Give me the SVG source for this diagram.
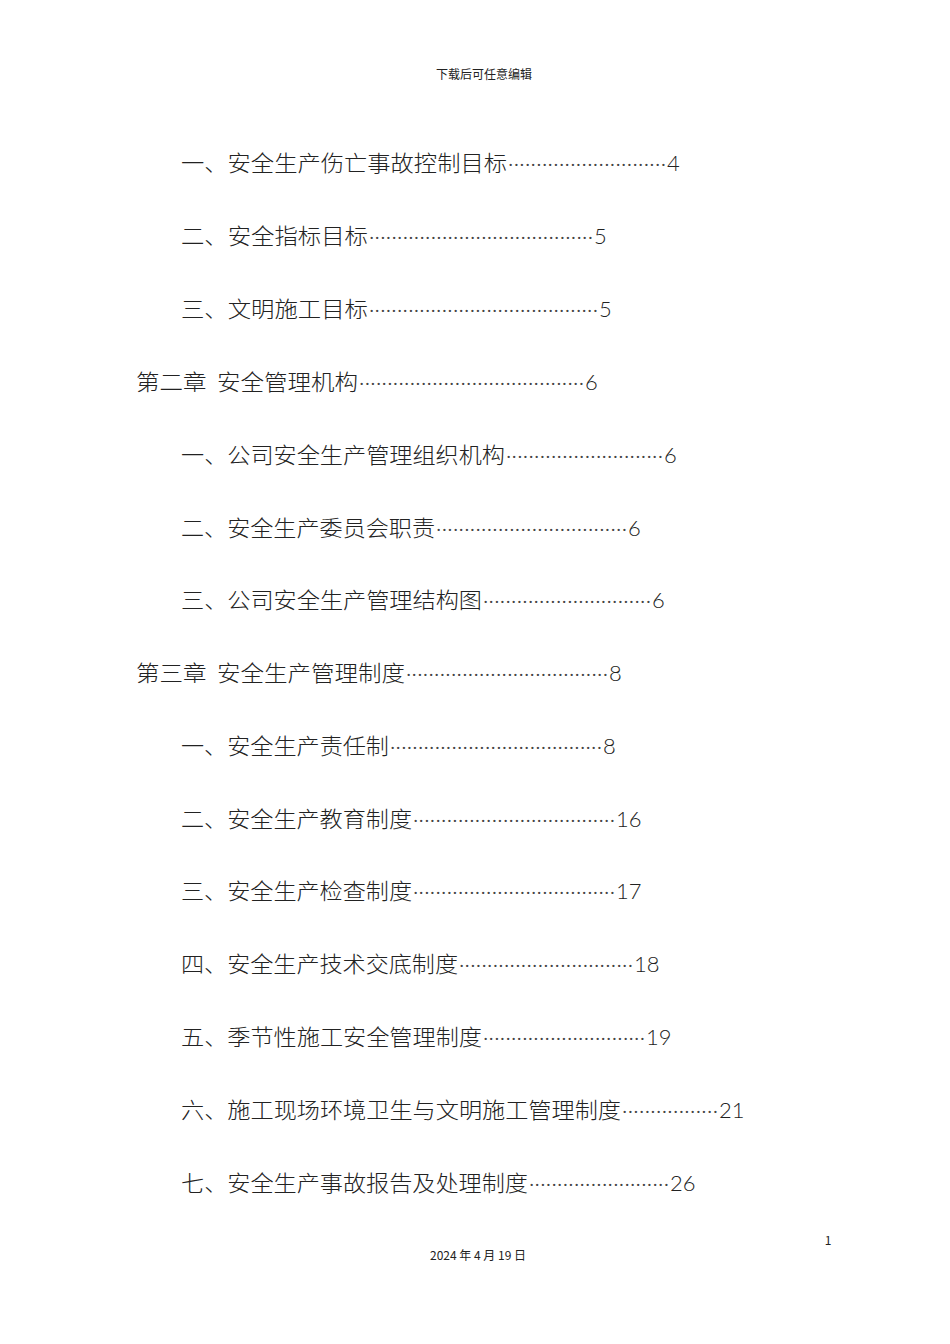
<svg xmlns="http://www.w3.org/2000/svg" width="950" height="1344" viewBox="0 0 950 1344">
<style>
.t{font-family:"Noto Sans CJK SC","Noto Sans",sans-serif;font-size:22px;fill:#222;font-weight:300}
.d{font-family:"Lato","Liberation Sans",sans-serif;font-size:22px;fill:#444;font-weight:300}
.n{font-family:"Lato","Liberation Sans",sans-serif;font-size:22px;fill:#222;font-weight:300}
.s{font-family:"Noto Sans CJK SC","Liberation Serif",serif;font-size:12px;fill:#222}
</style>
<rect width="950" height="1344" fill="#fff"/>
<text class="s" x="484" y="79" text-anchor="middle">下载后可任意编辑</text>
<g id="toc">
<g id="l1"><text class="t" x="181" y="171" textLength="326" lengthAdjust="spacingAndGlyphs">一、安全生产伤亡事故控制目标</text><text class="d" x="508" y="171" textLength="158" lengthAdjust="spacing">····························</text><text class="n" x="667" y="171">4</text></g>
<g id="l2"><text class="t" x="181" y="244" textLength="187" lengthAdjust="spacingAndGlyphs">二、安全指标目标</text><text class="d" x="369" y="244" textLength="224" lengthAdjust="spacing">········································</text><text class="n" x="594" y="244">5</text></g>
<g id="l3"><text class="t" x="181" y="317" textLength="187" lengthAdjust="spacingAndGlyphs">三、文明施工目标</text><text class="d" x="369" y="317" textLength="229" lengthAdjust="spacing">·········································</text><text class="n" x="599" y="317">5</text></g>
<g id="l4"><text class="t" x="136" y="390" textLength="222" lengthAdjust="spacingAndGlyphs">第二章&#160;&#160;安全管理机构</text><text class="d" x="359" y="390" textLength="225" lengthAdjust="spacing">········································</text><text class="n" x="585" y="390">6</text></g>
<g id="l5"><text class="t" x="181" y="463" textLength="324" lengthAdjust="spacingAndGlyphs">一、公司安全生产管理组织机构</text><text class="d" x="506" y="463" textLength="157" lengthAdjust="spacing">····························</text><text class="n" x="664" y="463">6</text></g>
<g id="l6"><text class="t" x="181" y="536" textLength="254" lengthAdjust="spacingAndGlyphs">二、安全生产委员会职责</text><text class="d" x="436" y="536" textLength="191" lengthAdjust="spacing">··································</text><text class="n" x="628" y="536">6</text></g>
<g id="l7"><text class="t" x="181" y="608" textLength="301" lengthAdjust="spacingAndGlyphs">三、公司安全生产管理结构图</text><text class="d" x="483" y="608" textLength="168" lengthAdjust="spacing">······························</text><text class="n" x="652" y="608">6</text></g>
<g id="l8"><text class="t" x="136" y="681" textLength="269" lengthAdjust="spacingAndGlyphs">第三章&#160;&#160;安全生产管理制度</text><text class="d" x="406" y="681" textLength="202" lengthAdjust="spacing">····································</text><text class="n" x="609" y="681">8</text></g>
<g id="l9"><text class="t" x="181" y="754" textLength="208" lengthAdjust="spacingAndGlyphs">一、安全生产责任制</text><text class="d" x="390" y="754" textLength="212" lengthAdjust="spacing">······································</text><text class="n" x="603" y="754">8</text></g>
<g id="l10"><text class="t" x="181" y="827" textLength="231" lengthAdjust="spacingAndGlyphs">二、安全生产教育制度</text><text class="d" x="413" y="827" textLength="202" lengthAdjust="spacing">····································</text><text class="n" x="616" y="827">16</text></g>
<g id="l11"><text class="t" x="181" y="899" textLength="231" lengthAdjust="spacingAndGlyphs">三、安全生产检查制度</text><text class="d" x="413" y="899" textLength="202" lengthAdjust="spacing">····································</text><text class="n" x="616" y="899">17</text></g>
<g id="l12"><text class="t" x="181" y="972" textLength="277" lengthAdjust="spacingAndGlyphs">四、安全生产技术交底制度</text><text class="d" x="459" y="972" textLength="174" lengthAdjust="spacing">·······························</text><text class="n" x="634" y="972">18</text></g>
<g id="l13"><text class="t" x="181" y="1045" textLength="301" lengthAdjust="spacingAndGlyphs">五、季节性施工安全管理制度</text><text class="d" x="483" y="1045" textLength="162" lengthAdjust="spacing">·····························</text><text class="n" x="646" y="1045">19</text></g>
<g id="l14"><text class="t" x="181" y="1118" textLength="440" lengthAdjust="spacingAndGlyphs">六、施工现场环境卫生与文明施工管理制度</text><text class="d" x="622" y="1118" textLength="96" lengthAdjust="spacing">·················</text><text class="n" x="719" y="1118">21</text></g>
<g id="l15"><text class="t" x="181" y="1191" textLength="347" lengthAdjust="spacingAndGlyphs">七、安全生产事故报告及处理制度</text><text class="d" x="529" y="1191" textLength="140" lengthAdjust="spacing">·························</text><text class="n" x="670" y="1191">26</text></g>
</g>
<text class="s" x="828" y="1245" text-anchor="middle">1</text>
<text class="s" x="478" y="1260" text-anchor="middle">2024 年 4 月 19 日</text>
</svg>
